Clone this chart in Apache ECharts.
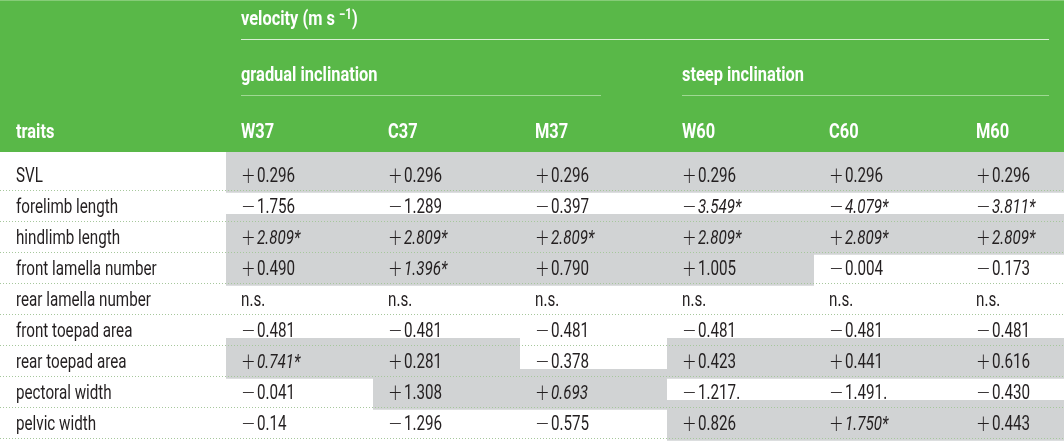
<!DOCTYPE html>
<html><head><meta charset="utf-8">
<script src="https://cdn.jsdelivr.net/npm/echarts/dist/echarts.min.js"></script>
<style>html,body{margin:0;padding:0;background:#fff}#c{width:1064px;height:442px}</style>
</head><body><div id="c"></div><script>
// ---- data ----
const traits = ['SVL','forelimb length','hindlimb length','front lamella number','rear lamella number','front toepad area','rear toepad area','pectoral width','pelvic width'];
const columns = ['W37','C37','M37','W60','C60','M60'];
const headerTitle = 'traits';
const velocityTitle = ['velocity (m s ', '\u22121', ')'];
const groupTitles = ['gradual inclination', 'steep inclination'];
const W37 = ['+0.296','\u22121.756','+2.809*','+0.490','n.s.','\u22120.481','+0.741*','\u22120.041','\u22120.14'];
const C37 = ['+0.296','\u22121.289','+2.809*','+1.396*','n.s.','\u22120.481','+0.281','+1.308','\u22121.296'];
const M37 = ['+0.296','\u22120.397','+2.809*','+0.790','n.s.','\u22120.481','\u22120.378','+0.693','\u22120.575'];
const W60 = ['+0.296','\u22123.549*','+2.809*','+1.005','n.s.','\u22120.481','+0.423','\u22121.217.','+0.826'];
const C60 = ['+0.296','\u22124.079*','+2.809*','\u22120.004','n.s.','\u22120.481','+0.441','\u22121.491.','+1.750*'];
const M60 = ['+0.296','\u22123.811*','+2.809*','\u22120.173','n.s.','\u22120.481','+0.616','\u22120.430','+0.443'];
const values = [W37, C37, M37, W60, C60, M60];
// italic (emphasised) cells as [column, row]
const emphasised = [[0,2],[0,6],[1,2],[1,3],[2,2],[2,7],[3,1],[3,2],[4,1],[4,2],[4,8],[5,1],[5,2]];
// shaded cells as [column, row]
const shaded = [
  [0,0],[1,0],[2,0],[3,0],[4,0],[5,0],
  [0,2],[1,2],[2,2],[3,2],[4,2],[5,2],
  [0,3],[1,3],[2,3],[3,3],
  [0,6],[1,6],[3,6],[4,6],[5,6],
  [1,7],[2,7],
  [3,8],[4,8],[5,8]
];

// ---- layout ----
const W = 1064, H = 442;
const ROW_PX = 31, HEAD_PX = 160, COL_PX = 147, FIRST_COL_PX = 226;
const xMin = -FIRST_COL_PX / COL_PX, xMax = (W - FIRST_COL_PX) / COL_PX;
const yMin = -HEAD_PX / ROW_PX, yMax = traits.length;
const PAD = 15 / COL_PX;
const LIFT = 8 / ROW_PX;
const SX = 0.76, SXB = 0.82;
const FONT = 'Roboto';
const INK = '#231f20';
const GREEN = '#59b848';
const GRAY = '#d1d3d4';
const pxY = px => yMin + px / ROW_PX;
const isEmph = (c, r) => emphasised.some(e => e[0] === c && e[1] === r);

function textEl(pt, text, style, sx) {
  return {
    type: 'text', x: pt[0], y: pt[1], scaleX: sx || SX,
    style: Object.assign({ text: text, x: 0, y: 0, fill: INK, fontFamily: FONT, fontSize: 20,
      align: 'left', verticalAlign: 'middle' }, style)
  };
}

function valueText(s, italic) {
  const signs = ['+', '\u2212'];
  let sign = '', rest = s;
  if (signs.indexOf(s[0]) >= 0) { sign = s[0]; rest = s.slice(1); }
  let t = '';
  if (sign) t += '{s|' + sign + '}';
  t += (italic ? '{i|' : '{v|') + rest + '}';
  return t;
}

const cellData = [];
for (let c = 0; c < columns.length; c++) for (let r = 0; r < traits.length; r++) cellData.push([c, r]);

const option = {
  animation: false,
  grid: { left: 0, right: 0, top: 0, bottom: H - HEAD_PX - ROW_PX * traits.length, containLabel: false },
  xAxis: { type: 'value', min: xMin, max: xMax, show: false },
  yAxis: { type: 'value', min: yMin, max: yMax, inverse: true, show: false },
  series: [
    { // shading
      type: 'custom', z: 1, clip: false,
      data: shaded,
      renderItem: (params, api) => {
        const c = api.value(0), r = api.value(1);
        const p0 = api.coord([c, r - LIFT]);
        const p1 = api.coord([c + 1, r + 1 + 0.06]);
        return { type: 'rect', shape: { x: p0[0], y: p0[1], width: p1[0] - p0[0], height: p1[1] - p0[1] },
          style: { fill: GRAY } };
      }
    },
    { // dotted row rules
      type: 'custom', z: 2, clip: false,
      data: traits.map((t, r) => [r]),
      renderItem: (params, api) => {
        const r = api.value(0);
        const a = api.coord([xMin, r + 1]), b = api.coord([xMax, r + 1]);
        const y = Math.round(a[1]) - 0.5;
        return { type: 'line', shape: { x1: a[0], y1: y, x2: b[0], y2: y },
          style: { stroke: '#a6c79c', lineWidth: 1, lineDash: [1, 2] } };
      }
    },
    { // row labels
      type: 'custom', z: 3, clip: false,
      data: traits.map((t, r) => [r]),
      renderItem: (params, api) => {
        const r = api.value(0);
        return textEl(api.coord([xMin + 16 / COL_PX, r + 0.56]), traits[r], {});
      }
    },
    { // cell values
      type: 'custom', z: 3, clip: false,
      data: cellData,
      renderItem: (params, api) => {
        const c = api.value(0), r = api.value(1);
        const s = values[c][r];
        return textEl(api.coord([c + PAD, r + 0.56]), valueText(s, isEmph(c, r)), {
          rich: {
            s: { fontFamily: 'DejaVu Sans', fontSize: 23, fontWeight: 200, fill: INK, width: 21 },
            v: { fontFamily: FONT, fontSize: 20, fill: INK },
            i: { fontFamily: FONT, fontSize: 20, fill: INK, fontStyle: 'italic' }
          }
        });
      }
    },
    { // header
      type: 'custom', z: 4, clip: false,
      data: [[0]],
      renderItem: (params, api) => {
        const tl = api.coord([xMin, yMin]);
        const br = api.coord([xMax, -LIFT]);
        const kids = [];
        kids.push({ type: 'rect', shape: { x: tl[0], y: tl[1], width: br[0] - tl[0], height: br[1] - tl[1] }, style: { fill: GREEN } });
        kids.push({ type: 'line', shape: { x1: tl[0], y1: 0.5, x2: br[0], y2: 0.5 }, style: { stroke: '#86cc78', lineWidth: 1 } });
        const hl = (x1, x2, ypx, col) => {
          const a = api.coord([x1, pxY(ypx)]), b = api.coord([x2, pxY(ypx)]);
          kids.push({ type: 'line', shape: { x1: a[0], y1: Math.round(a[1]) + 0.5, x2: b[0], y2: Math.round(a[1]) + 0.5 },
            style: { stroke: col, lineWidth: 1 } });
        };
        hl(PAD, 5 + 0.599, 39, '#d8efd3');
        hl(PAD, 2 + 0.551, 95, '#9fd893');
        hl(3 + PAD, 5 + 0.599, 95, '#9fd893');
        const hs = { fill: '#ffffff', fontWeight: 'bold' };
        kids.push(textEl(api.coord([PAD, pxY(20)]),
          '{a|' + velocityTitle[0] + '}{u|' + velocityTitle[1] + '}{a|' + velocityTitle[2] + '}',
          Object.assign({}, hs, { rich: {
            a: { fontFamily: FONT, fontSize: 20, fontWeight: 'bold', fill: '#fff', lineHeight: 24 },
            u: { fontFamily: FONT, fontSize: 14, fontWeight: 'bold', fill: '#fff', lineHeight: 14, verticalAlign: 'top' }
          } }), SXB));
        kids.push(textEl(api.coord([PAD, pxY(76)]), groupTitles[0], hs, SXB));
        kids.push(textEl(api.coord([3 + PAD, pxY(76)]), groupTitles[1], hs, SXB));
        kids.push(textEl(api.coord([xMin + 16 / COL_PX, pxY(133)]), headerTitle, hs, SXB));
        columns.forEach((name, c) => kids.push(textEl(api.coord([c + PAD, pxY(133)]), name, hs, SXB)));
        return { type: 'group', children: kids };
      }
    }
  ]
};
const chart = echarts.init(document.getElementById('c'), null, { renderer: 'canvas' });
chart.setOption(option);
</script></body></html>
